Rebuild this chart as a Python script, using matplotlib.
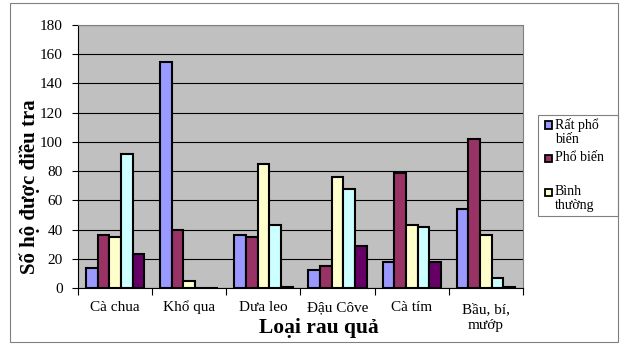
import matplotlib.pyplot as plt
import numpy as np
from matplotlib.patches import Rectangle

# Dữ liệu
categories = ["Cà chua", "Khổ qua", "Dưa leo", "Đậu Côve", "Cà tím", "Bầu, bí,\nmướp"]
rat_pho_bien = [14, 155, 36, 12, 18, 54]
pho_bien = [36, 40, 35, 15, 79, 102]
binh_thuong = [35, 5, 85, 76, 43, 36]
it_pho_bien = [92, 0, 43, 68, 42, 7]
khong_co = [23, 0, 1, 29, 18, 1]
series = [rat_pho_bien, pho_bien, binh_thuong, it_pho_bien, khong_co]
legend_labels = ["Rất phổ\nbiến", "Phổ biến", "Bình\nthường"]
colors = ["#9999FF", "#993366", "#FFFFCC", "#CCFFFF", "#660066"]

plt.rcParams['font.family'] = ['Liberation Serif', 'DejaVu Serif']

W, H = 626, 344
fig = plt.figure(figsize=(W / 100, H / 100), dpi=100)
ax = fig.add_axes([78 / W, 1 - 288 / H, 445 / W, 263 / H])
ax.set_facecolor("#C0C0C0")

x = np.arange(len(categories))
bw = 0.157
for i, vals in enumerate(series):
    ax.bar(x - 2 * bw + i * bw, vals, width=bw, color=colors[i],
           edgecolor="black", linewidth=1.5, zorder=3)

ax.set_xlim(-0.5, len(categories) - 0.5)
ax.set_ylim(0, 180)
ax.set_yticks(range(0, 181, 20))
ax.yaxis.grid(True, color="black", linewidth=0.8, zorder=0)
ax.set_axisbelow(True)
ax.tick_params(axis='y', labelsize=11, length=4, width=0.8, pad=7)
for t in ax.get_yticklabels():
    t.set_family(['Liberation Serif', 'DejaVu Serif'])

ax.set_xticks(np.arange(-0.5, len(categories), 1.0))
ax.set_xticklabels([])
ax.tick_params(axis='x', which='major', length=5, width=0.8)

# Nhãn loại rau quả, canh theo đường chân chữ
def fig_to_axes_y(py):
    return ((H - py) / H - (1 - 288 / H)) / (263 / H)

for xi, cat in zip(x, categories):
    lines = cat.split("\n")
    base = 311 if len(lines) == 1 else 313
    for k, line in enumerate(lines):
        ax.text(xi, fig_to_axes_y(base + 16 * k), line, transform=ax.get_xaxis_transform(),
                ha='center', va='baseline', fontsize=11)

for s in ["top", "right"]:
    ax.spines[s].set_color("#808080")
for s in ["left", "bottom"]:
    ax.spines[s].set_color("black")

fig.text(30 / W, 1 - 187 / H, "Số hộ được điều tra", rotation=90, fontsize=15,
         fontweight='bold', ha='center', va='center')
fig.text(319 / W, 1 - 328 / H, "Loại rau quả", fontsize=15.5,
         fontweight='bold', ha='center', va='center')

# Chú giải (chỉ hiện 3 mục như bản gốc)
lx0, ly0, lx1, ly1 = 538, 115, 618, 216
fig.patches.append(Rectangle((lx0 / W, 1 - ly1 / H), (lx1 - lx0) / W, (ly1 - ly0) / H,
                             transform=fig.transFigure, facecolor="white",
                             edgecolor="#808080", linewidth=0.8))
entry_y = [125, 158, 192]
for lab, col, yy in zip(legend_labels, colors, entry_y):
    fig.patches.append(Rectangle((545 / W, 1 - (yy + 3.5) / H), 7 / W, 7 / H,
                                 transform=fig.transFigure, facecolor=col,
                                 edgecolor="black", linewidth=1.3))
    fig.text(555 / W, 1 - (yy - 7) / H, lab, fontsize=10, va='top', ha='left',
             linespacing=1.1)

# Khung ngoài
fig.patches.append(Rectangle((10 / W, 2 / H), 608 / W, 339 / H,
                             transform=fig.transFigure, fill=False,
                             edgecolor="#808080", linewidth=0.8))

fig.savefig("out.png", dpi=100)
